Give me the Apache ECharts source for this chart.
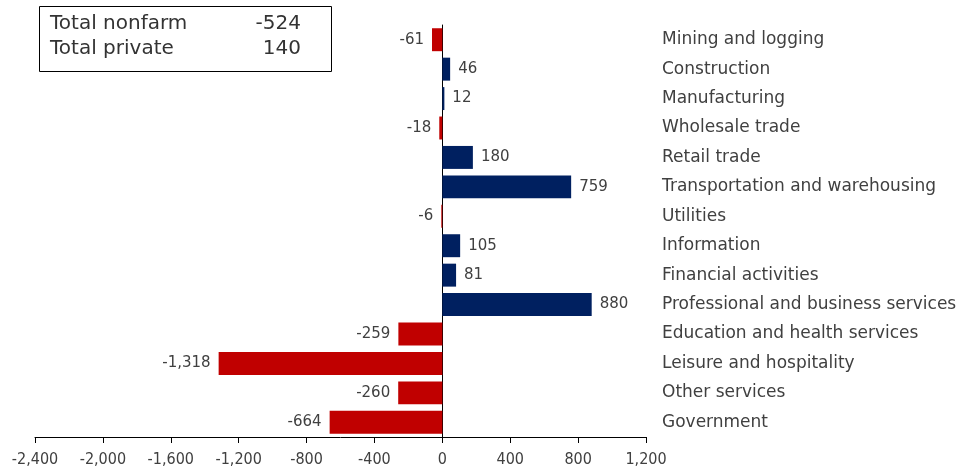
<!DOCTYPE html>
<html>
<head>
<meta charset="utf-8">
<script src="https://cdn.jsdelivr.net/npm/echarts@6/dist/echarts.min.js"></script>
<style>
  html, body { margin: 0; padding: 0; background: #fff; }
  #chart { width: 964px; height: 469px; }
</style>
</head>
<body>
<div id="chart"></div>
<script>
var categories = ['Mining and logging', 'Construction', 'Manufacturing', 'Wholesale trade',
    'Retail trade', 'Transportation and warehousing', 'Utilities', 'Information',
    'Financial activities', 'Professional and business services',
    'Education and health services', 'Leisure and hospitality', 'Other services', 'Government'];
var changes = [-61, 46, 12, -18, 180, 759, -6, 105, 81, 880, -259, -1318, -260, -664];
var summaryLabels = ['Total nonfarm', 'Total private'];
var summaryValues = ['-524', '140'];

var font = '"DejaVu Sans", "Noto Sans", sans-serif';
var narrow = '"Liberation Sans Narrow", "DejaVu Sans Condensed", sans-serif';
var chart = echarts.init(document.getElementById('chart'));

function fmt(v) {
    return echarts.format.addCommas(v);
}

var barData = changes.map(function (v) {
    return {
        value: v,
        itemStyle: { color: v < 0 ? '#C00000' : '#002060' },
        label: { position: v < 0 ? 'left' : 'right' }
    };
});

// summary box: border + one text per row, values right-aligned
var summaryGraphics = [{
    type: 'rect',
    left: 39,
    top: 6,
    shape: { width: 292, height: 65 },
    style: { fill: '#fff', stroke: '#000', lineWidth: 1 }
}];
summaryLabels.forEach(function (name, i) {
    var y = 24 + i * 25;
    summaryGraphics.push({
        type: 'text',
        x: 50,
        y: y,
        style: {
            text: name, fontFamily: font, fontSize: 20, fill: '#333',
            align: 'left', verticalAlign: 'middle'
        }
    });
    summaryGraphics.push({
        type: 'text',
        x: 301,
        y: y,
        style: {
            text: summaryValues[i], fontFamily: font, fontSize: 20, fill: '#333',
            align: 'right', verticalAlign: 'middle'
        }
    });
});

var option = {
    animation: false,
    grid: { left: 35, right: 318, top: 25, bottom: 32 },
    xAxis: {
        type: 'value',
        min: -2400,
        max: 1200,
        interval: 400,
        axisLine: { show: true, lineStyle: { color: '#000', width: 1 } },
        axisTick: { show: true, length: 6, lineStyle: { color: '#000' } },
        splitLine: { show: false },
        axisLabel: {
            color: '#404040',
            fontFamily: narrow,
            fontSize: 16,
            margin: 15,
            formatter: function (v) { return fmt(v); }
        }
    },
    yAxis: [
        {
            type: 'category',
            data: categories,
            inverse: true,
            axisLine: { show: true, onZero: true, lineStyle: { color: '#000', width: 1 } },
            axisTick: { show: false },
            axisLabel: { show: false }
        },
        {
            type: 'category',
            data: categories,
            inverse: true,
            position: 'right',
            axisLine: { show: false },
            axisTick: { show: false },
            axisLabel: {
                color: '#404040',
                fontFamily: font,
                fontSize: 17,
                margin: 16
            }
        }
    ],
    series: [
        {
            type: 'bar',
            yAxisIndex: 0,
            data: barData,
            barCategoryGap: '22%',
            label: {
                show: true,
                color: '#404040',
                fontFamily: font,
                fontSize: 15,
                distance: 8,
                formatter: function (p) { return fmt(p.value); }
            }
        }
    ],
    graphic: summaryGraphics
};

chart.setOption(option);
</script>
</body>
</html>
